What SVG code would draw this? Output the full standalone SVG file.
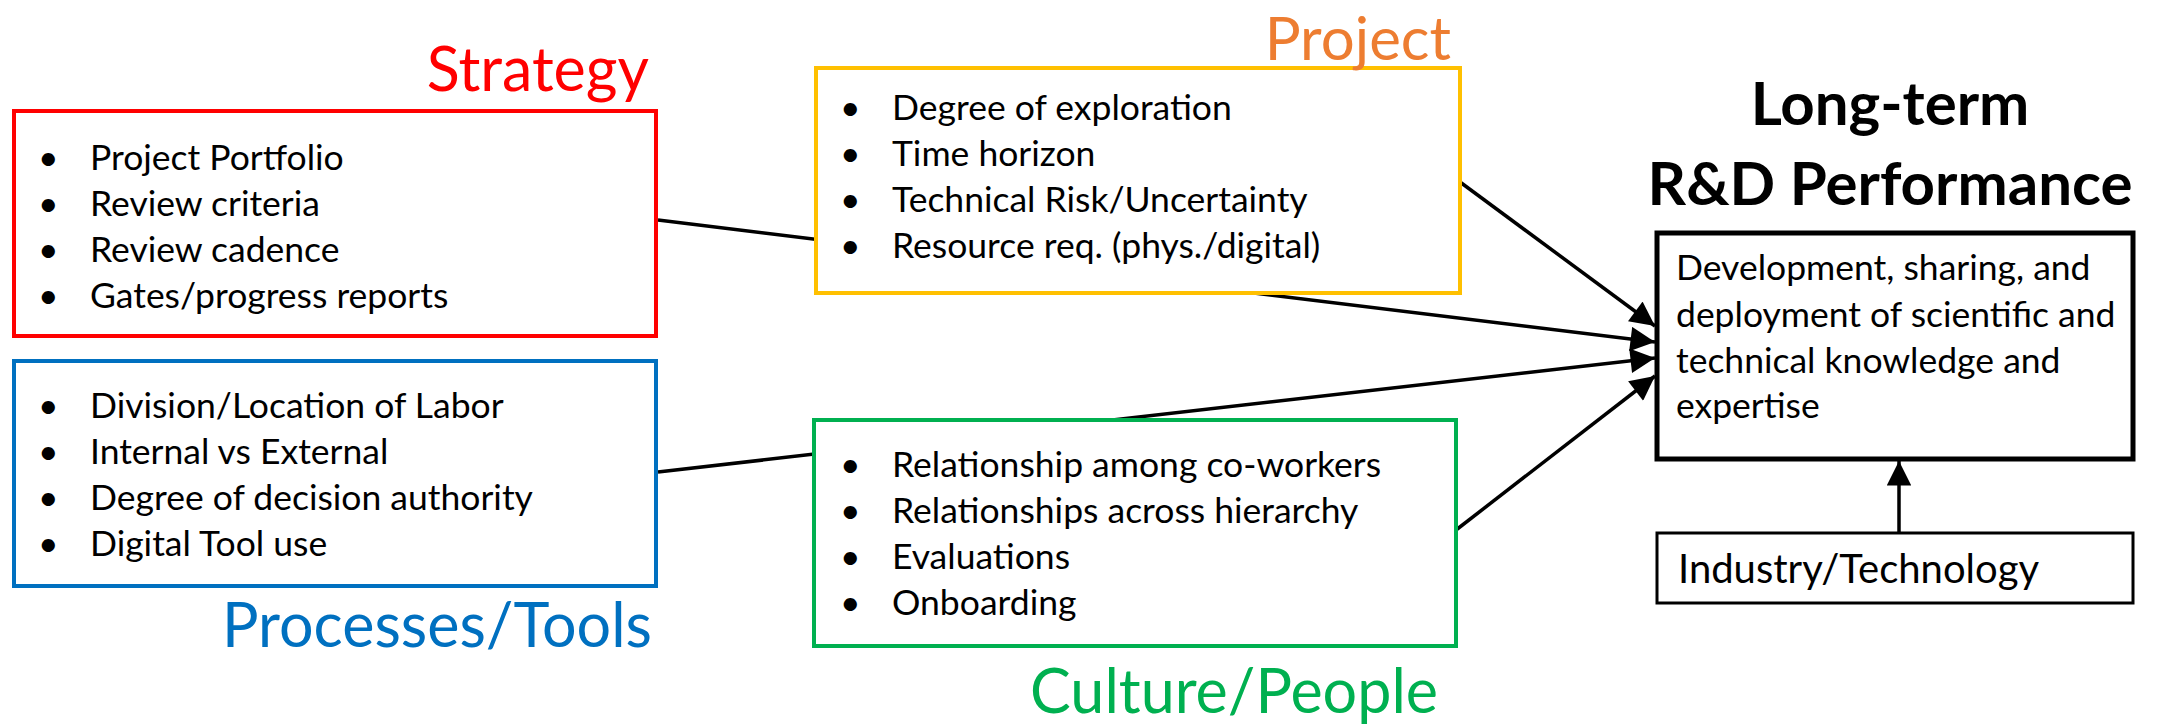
<svg xmlns="http://www.w3.org/2000/svg" width="2175" height="726" viewBox="0 0 2175 726">
  <style>
    text { font-family: Lato, "Liberation Sans", sans-serif; fill: #000; }
    .item { font-size: 35.5px; }
    .title { font-size: 61px; text-anchor: end; }
    .head { font-size: 60px; font-weight: bold; text-anchor: middle; }
    .box { fill: #fff; stroke-width: 4; }
    .link { stroke: #000; stroke-width: 3.5; fill: none; }
  </style>
  <defs>
    <marker id="arrow" viewBox="0 0 10 10" refX="10" refY="5" markerWidth="7.5" markerHeight="7" markerUnits="strokeWidth" orient="auto">
      <path d="M0,0 L10,5 L0,10 z" fill="#000"/>
    </marker>
  </defs>

  <!-- connectors (drawn first so the boxes sit on top of them) -->
  <g id="connectors">
    <line class="link" x1="658" y1="220" x2="1655" y2="342" marker-end="url(#arrow)"/>
    <line class="link" x1="658" y1="472" x2="1655" y2="358" marker-end="url(#arrow)"/>
    <line class="link" x1="1460" y1="182" x2="1655" y2="326" marker-end="url(#arrow)"/>
    <line class="link" x1="1456" y1="530" x2="1655" y2="376" marker-end="url(#arrow)"/>
    <line class="link" x1="1899" y1="533" x2="1899" y2="461" marker-end="url(#arrow)"/>
  </g>

  <g id="strategy">
    <rect class="box" x="14" y="111" width="642" height="225" stroke="#FF0000"/>
    <text class="title" x="649" y="91" style="fill:#FF0000">Strategy</text>
    <text class="item" x="38" y="170">•</text><text class="item" x="90" y="170">Project Portfolio</text>
    <text class="item" x="38" y="216">•</text><text class="item" x="90" y="216">Review criteria</text>
    <text class="item" x="38" y="262">•</text><text class="item" x="90" y="262">Review cadence</text>
    <text class="item" x="38" y="308">•</text><text class="item" x="90" y="308">Gates/progress reports</text>
  </g>

  <g id="processes">
    <rect class="box" x="14" y="361" width="642" height="225" stroke="#0070C0"/>
    <text class="title" x="652" y="647" style="fill:#0070C0">Processes/Tools</text>
    <text class="item" x="38" y="418">•</text><text class="item" x="90" y="418">Division/Location of Labor</text>
    <text class="item" x="38" y="464">•</text><text class="item" x="90" y="464">Internal vs External</text>
    <text class="item" x="38" y="510">•</text><text class="item" x="90" y="510">Degree of decision authority</text>
    <text class="item" x="38" y="556">•</text><text class="item" x="90" y="556">Digital Tool use</text>
  </g>

  <g id="project">
    <rect class="box" x="816" y="68" width="644" height="225" stroke="#FFC000"/>
    <text class="title" x="1451" y="60" style="fill:#ED7D31;font-size:60px">Project</text>
    <text class="item" x="840" y="120">•</text><text class="item" x="892" y="120">Degree of exploration</text>
    <text class="item" x="840" y="166">•</text><text class="item" x="892" y="166">Time horizon</text>
    <text class="item" x="840" y="212">•</text><text class="item" x="892" y="212">Technical Risk/Uncertainty</text>
    <text class="item" x="840" y="258">•</text><text class="item" x="892" y="258">Resource req. (phys./digital)</text>
  </g>

  <g id="culture">
    <rect class="box" x="814" y="420" width="642" height="226" stroke="#00B050"/>
    <text class="title" x="1438" y="713" style="fill:#00B050">Culture/People</text>
    <text class="item" x="840" y="477">•</text><text class="item" x="892" y="477">Relationship among co-workers</text>
    <text class="item" x="840" y="523">•</text><text class="item" x="892" y="523">Relationships across hierarchy</text>
    <text class="item" x="840" y="569">•</text><text class="item" x="892" y="569">Evaluations</text>
    <text class="item" x="840" y="615">•</text><text class="item" x="892" y="615">Onboarding</text>
  </g>

  <g id="performance">
    <text class="head" x="1890" y="125">Long-term</text>
    <text class="head" x="1890" y="205">R&amp;D Performance</text>
    <rect x="1657" y="233" width="476" height="226" fill="#fff" stroke="#000" stroke-width="5"/>
    <text class="item" x="1676" y="280">Development, sharing, and</text>
    <text class="item" x="1676" y="327">deployment of scientific and</text>
    <text class="item" x="1676" y="373">technical knowledge and</text>
    <text class="item" x="1676" y="418">expertise</text>
  </g>

  <g id="industry">
    <rect x="1657" y="533" width="476" height="70" fill="#fff" stroke="#000" stroke-width="3"/>
    <text x="1678" y="583" style="font-size:40px">Industry/Technology</text>
  </g>
</svg>
